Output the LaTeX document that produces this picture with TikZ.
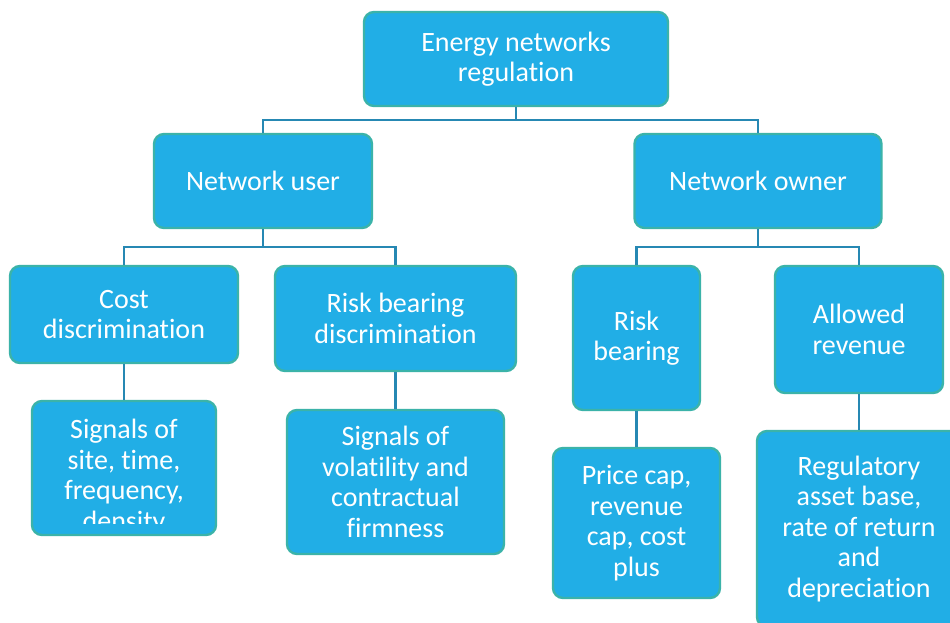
\documentclass[tikz,border=0pt]{standalone}
\usepackage{fontspec}
\setmainfont{Carlito}[RawFeature={-liga}]
\begin{document}
\definecolor{boxfill}{HTML}{21AEE6}
\definecolor{boxedge}{HTML}{3BB3A9}
\definecolor{linkcol}{HTML}{2688B3}
\begin{tikzpicture}[x=1pt,y=-1pt,
  box/.style={draw=boxedge, line width=2.4pt, fill=boxfill, rounded corners=10pt,
    text=white, align=center, inner sep=0pt,
    font=\fontsize{28}{30.5}\selectfont},
  link/.style={draw=linkcol, line width=2.4pt}]
\clip (0,0) rectangle (950,623);
\useasboundingbox (0,0) rectangle (950,623);

% tree levels
\node[box, minimum width=304pt, minimum height=94pt] (top) at (516,59) {Energy networks\\regulation};
\node[box, minimum width=218pt, minimum height=94pt] (user) at (263,181) {Network user};
\node[box, minimum width=247pt, minimum height=94pt] (owner) at (758,181) {Network owner};

\node[box, minimum width=228pt, minimum height=97pt] (cost) at (124,314.5) {Cost\\discrimination};
\node[box, minimum width=241pt, minimum height=105pt] (rbd) at (395.5,318.5) {Risk bearing\\discrimination};
\node[box, minimum width=127pt, minimum height=144pt] (risk) at (636.5,338) {Risk\\bearing};
\node[box, minimum width=168pt, minimum height=127pt] (rev) at (859,329.5) {Allowed\\revenue};

% leaves
\node[box, minimum width=184pt, minimum height=134pt] (site) at (124,468) {};
\begin{scope}
  \clip (30,405) rectangle (218,523);
  \node[text=white, align=center, inner sep=0pt, font=\fontsize{28}{30.5}\selectfont]
    (sitetext) at (124,477) {Signals of\\site, time,\\frequency,\\density};
\end{scope}
\node[box, minimum width=217pt, minimum height=144pt] (vol) at (395.5,482) {Signals of\\volatility and\\contractual\\firmness};
\node[box, minimum width=167pt, minimum height=150pt] (cap) at (636.5,523) {Price cap,\\revenue\\cap, cost\\plus};
\node[box, minimum width=204pt, minimum height=196pt] (rab) at (859,529) {Regulatory\\asset base,\\rate of return\\and\\depreciation};

% connectors
\coordinate (j1) at (516,120);
\draw[link] (top.south) -- (j1) -| (user.north);
\draw[link] (j1) -| (owner.north);
\draw[link] (user.south) -- ++(0,18) -| (cost.north);
\draw[link] (user.south) -- ++(0,18) -| (rbd.north);
\draw[link] (owner.south) -- ++(0,18) -| (risk.north);
\draw[link] (owner.south) -- ++(0,18) -| (rev.north);
\draw[link] (cost.south) -- (site.north);
\draw[link] (rbd.south) -- (vol.north);
\draw[link] (risk.south) -- (cap.north);
\draw[link] (rev.south) -- (rab.north);
\end{tikzpicture}
\end{document}
